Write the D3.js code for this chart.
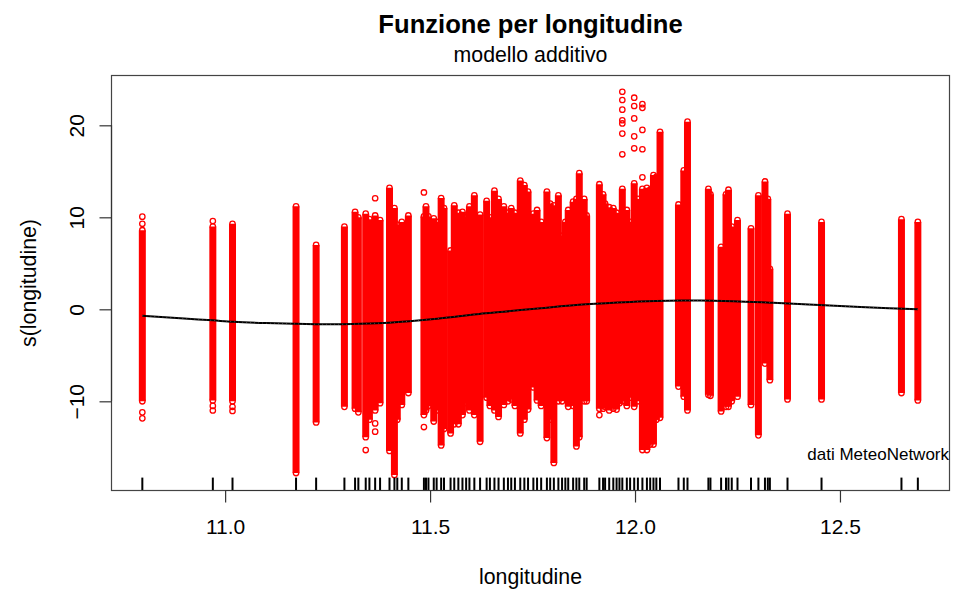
<!DOCTYPE html>
<html>
<head>
<meta charset="utf-8">
<script src="https://cdn.jsdelivr.net/npm/d3@7"></script>
<style>
  html, body { margin: 0; padding: 0; background: #fff; }
  svg { display: block; font-family: "Liberation Sans", Arial, Helvetica, sans-serif; }
</style>
</head>
<body>
<svg id="chart" width="954" height="598"></svg>
<script>
// Stations (longitude) with the extent of their partial residuals for s(longitudine)
const stationLon = [
  10.798, 10.970, 11.018, 11.173, 11.222, 11.291, 11.317, 11.325, 11.343, 11.352,
  11.366, 11.378, 11.401, 11.413, 11.420, 11.431, 11.447, 11.485, 11.490, 11.496,
  11.509, 11.516, 11.527, 11.534, 11.550, 11.559, 11.569, 11.579, 11.588, 11.596,
  11.608, 11.622, 11.638, 11.646, 11.657, 11.667, 11.680, 11.690, 11.698, 11.707,
  11.720, 11.730, 11.739, 11.752, 11.761, 11.771, 11.785, 11.793, 11.802, 11.813,
  11.822, 11.830, 11.837, 11.849, 11.857, 11.864, 11.876, 11.882, 11.913, 11.922,
  11.927, 11.937, 11.947, 11.955, 11.962, 11.969, 11.980, 11.988, 11.998, 12.007,
  12.018, 12.029, 12.037, 12.045, 12.052, 12.061, 12.106, 12.119, 12.128, 12.179,
  12.184, 12.210, 12.222, 12.228, 12.236, 12.250, 12.283, 12.301, 12.317, 12.324,
  12.329, 12.372, 12.455, 12.650, 12.690
];
const residHigh = [
  8.6, 9.0, 9.3, 11.2, 7.0, 9.0, 10.6, 10.0, 10.4, 9.8,
  10.2, 9.7, 13.2, 11.0, 9.2, 9.5, 10.2, 10.1, 11.2, 10.1,
  9.9, 9.5, 12.1, 11.0, 6.4, 11.3, 10.5, 10.6, 10.0, 11.2,
  12.4, 10.3, 11.8, 10.0, 12.9, 12.0, 11.2, 10.5, 11.0, 10.5,
  14.0, 13.5, 12.8, 10.4, 10.8, 9.5, 12.8, 11.5, 11.3, 12.4,
  8.0, 9.5, 10.8, 11.7, 12.0, 14.8, 12.0, 10.2, 13.6, 12.5,
  11.5, 11.1, 11.0, 10.5, 10.0, 13.1, 10.8, 9.5, 13.7, 12.0,
  13.1, 13.2, 13.0, 14.6, 14.4, 19.3, 11.4, 15.1, 20.4, 13.1,
  12.5, 6.8, 12.5, 13.0, 9.0, 9.7, 8.8, 12.4, 13.9, 12.0,
  4.4, 10.4, 9.5, 9.8, 9.5
];
const residLow = [
  -10.0, -9.9, -10.0, -17.8, -12.3, -10.6, -10.8, -11.2, -13.9, -12.0,
  -11.0, -10.2, -15.4, -18.0, -12.0, -10.4, -9.1, -11.5, -11.0, -10.5,
  -12.2, -11.0, -14.8, -13.0, -13.5, -12.5, -12.5, -11.5, -10.2, -11.0,
  -11.5, -14.4, -9.6, -10.5, -11.0, -11.7, -10.4, -10.0, -9.8, -10.5,
  -13.5, -12.0, -10.9, -8.5, -9.9, -10.5, -14.0, -12.0, -16.7, -10.0,
  -10.0, -9.5, -10.6, -10.5, -14.9, -13.9, -10.0, -10.0, -10.8, -10.8,
  -10.6, -11.0, -10.8, -10.9, -10.2, -10.0, -10.5, -9.6, -10.6, -10.0,
  -15.3, -15.3, -14.7, -14.7, -12.0, -11.8, -8.4, -9.5, -11.0, -9.3,
  -9.4, -11.1, -10.6, -10.6, -10.0, -9.5, -10.4, -13.7, -5.9, -5.0,
  -7.7, -9.8, -9.8, -9.1, -9.9
];

// Isolated residuals lying apart from the station columns
const outlierLon = [
  10.798, 10.798, 10.798, 10.798, 10.970, 10.970, 10.970, 11.018, 11.018,
  11.343, 11.366, 11.366, 11.366, 11.485, 11.485, 11.913,
  11.969, 11.969, 11.969, 11.969, 11.969, 11.969, 11.969,
  11.998, 11.998, 11.998, 11.998, 11.998,
  12.018, 12.018, 12.018, 12.018, 12.018
];
const outlierVal = [
  10.07, 9.3, -11.2, -11.85, 9.6, -10.5, -11.0, -10.6, -11.05,
  -15.3, 12.07, -12.4, -13.3, 12.7, -12.8, -11.5,
  23.65, 22.75, 21.7, 20.55, 20.2, 19.1, 16.85,
  23.0, 22.1, 20.75, 18.8, 17.5,
  22.3, 21.9, 19.5, 17.4, 14.35
];

// Estimated smooth term s(longitudine)
const smoothLon = [10.798, 10.90, 10.97, 11.02, 11.10, 11.173, 11.222, 11.27, 11.33, 11.40,
                   11.47, 11.51, 11.57, 11.62, 11.68, 11.77, 11.88, 11.99, 12.08, 12.16,
                   12.24, 12.33, 12.40, 12.45, 12.55, 12.62, 12.69];
const smoothVal = [-0.69, -1.0, -1.2, -1.35, -1.5, -1.58, -1.62, -1.63, -1.58, -1.46,
                   -1.22, -1.05, -0.75, -0.5, -0.26, 0.12, 0.54, 0.80, 0.94, 0.95,
                   0.88, 0.72, 0.58, 0.46, 0.25, 0.12, 0.0];

const xTicks = [11.0, 11.5, 12.0, 12.5];
const yTicks = [-10, 0, 10, 20];

const svg = d3.select("#chart");
const plotLeft = 112, plotRight = 949, plotTop = 76, plotBottom = 490;

const x = d3.scaleLinear().domain([10.724, 12.766]).range([plotLeft, plotRight]);
const y = d3.scaleLinear().domain([-19.64, 25.36]).range([plotBottom, plotTop]);

const red = "#ff0000";
const plot = svg.append("g");

// dense columns of residuals, one per station
plot.selectAll("line.col")
  .data(stationLon.map((d, i) => ({ lon: d, hi: residHigh[i], lo: residLow[i] })))
  .join("line")
  .attr("class", "col")
  .attr("x1", d => x(d.lon)).attr("x2", d => x(d.lon))
  .attr("y1", d => y(d.hi)).attr("y2", d => y(d.lo))
  .attr("stroke", red)
  .attr("stroke-width", 7);

// open circles at the column ends and for isolated residuals
const ends = [];
stationLon.forEach((d, i) => { ends.push([d, residHigh[i]]); ends.push([d, residLow[i]]); });
outlierLon.forEach((d, i) => ends.push([d, outlierVal[i]]));
plot.selectAll("circle.pt")
  .data(ends)
  .join("circle")
  .attr("class", "pt")
  .attr("cx", d => x(d[0]))
  .attr("cy", d => y(d[1]))
  .attr("r", 2.7)
  .attr("fill", "none")
  .attr("stroke", red)
  .attr("stroke-width", 1.3);

// smooth
const line = d3.line()
  .x((d, i) => x(smoothLon[i]))
  .y(d => y(d))
  .curve(d3.curveMonotoneX);
plot.append("path")
  .datum(smoothVal)
  .attr("d", line)
  .attr("fill", "none")
  .attr("stroke", "#000")
  .attr("stroke-width", 2);
plot.append("path")
  .datum(smoothVal)
  .attr("d", line)
  .attr("fill", "none")
  .attr("stroke", "#777")
  .attr("stroke-width", 0.6)
  .attr("stroke-dasharray", "1 3");

// rug of station longitudes
plot.selectAll("line.rug")
  .data(stationLon)
  .join("line")
  .attr("class", "rug")
  .attr("x1", d => x(d)).attr("x2", d => x(d))
  .attr("y1", plotBottom).attr("y2", plotBottom - 12.4)
  .attr("stroke", "#000")
  .attr("stroke-width", 2);

// frame
svg.append("rect")
  .attr("x", plotLeft - 0.5).attr("y", plotTop - 0.5)
  .attr("width", plotRight - plotLeft + 1).attr("height", plotBottom - plotTop + 1)
  .attr("fill", "none").attr("stroke", "#444").attr("stroke-width", 1.2);

// x axis
const xAxis = svg.append("g").attr("transform", `translate(0,${plotBottom + 0.5})`)
  .call(d3.axisBottom(x).tickValues(xTicks).tickFormat(d3.format(".1f")).tickSize(12).tickPadding(17));
xAxis.select(".domain").remove();
xAxis.append("line")
  .attr("x1", x(xTicks[0])).attr("x2", x(xTicks[xTicks.length - 1]))
  .attr("stroke", "#333").attr("stroke-width", 1.2);
xAxis.selectAll(".tick line").attr("stroke", "#333").attr("stroke-width", 1.2);
xAxis.selectAll(".tick text").attr("font-size", 21).attr("fill", "#000")
  .attr("font-family", "Liberation Sans, Arial, sans-serif");

// y axis
const yAxis = svg.append("g").attr("transform", `translate(${plotLeft - 0.5},0)`)
  .call(d3.axisLeft(y).tickValues(yTicks).tickFormat(d3.format("d")).tickSize(12));
yAxis.select(".domain").remove();
yAxis.append("line")
  .attr("y1", y(yTicks[0])).attr("y2", y(yTicks[yTicks.length - 1]))
  .attr("stroke", "#333").attr("stroke-width", 1.2);
yAxis.selectAll(".tick line").attr("stroke", "#333").attr("stroke-width", 1.2);
yAxis.selectAll(".tick text")
  .attr("font-size", 21).attr("fill", "#000")
  .attr("font-family", "Liberation Sans, Arial, sans-serif")
  .attr("x", null).attr("dy", null)
  .attr("text-anchor", "middle")
  .attr("transform", "translate(-28,0) rotate(-90)");

// titles and labels
svg.append("text")
  .attr("x", (plotLeft + plotRight) / 2).attr("y", 33)
  .attr("text-anchor", "middle").attr("font-size", 25.6).attr("font-weight", "bold")
  .text("Funzione per longitudine");
svg.append("text")
  .attr("x", (plotLeft + plotRight) / 2).attr("y", 62)
  .attr("text-anchor", "middle").attr("font-size", 21.3)
  .text("modello additivo");
svg.append("text")
  .attr("x", (plotLeft + plotRight) / 2).attr("y", 584)
  .attr("text-anchor", "middle").attr("font-size", 21.3)
  .text("longitudine");
svg.append("text")
  .attr("transform", `translate(36,${(plotTop + plotBottom) / 2}) rotate(-90)`)
  .attr("text-anchor", "middle").attr("font-size", 21.3)
  .text("s(longitudine)");
svg.append("text")
  .attr("x", plotRight).attr("y", 460)
  .attr("text-anchor", "end").attr("font-size", 17)
  .text("dati MeteoNetwork");
</script>
</body>
</html>
